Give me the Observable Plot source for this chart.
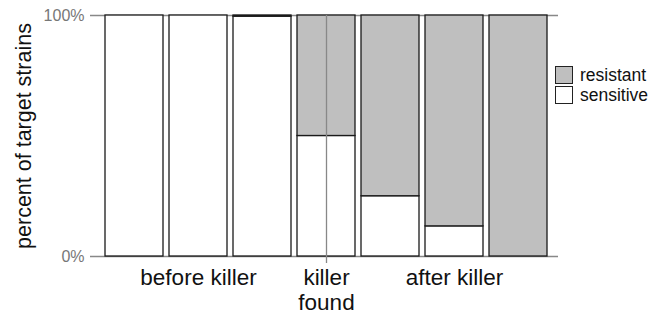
<!DOCTYPE html>
<html>
<head>
<meta charset="utf-8">
<script src="https://cdn.jsdelivr.net/npm/d3@7"></script>
<script src="https://cdn.jsdelivr.net/npm/@observablehq/plot@0.6"></script>
<style>
  html, body { margin: 0; padding: 0; background: #fff; }
  #wrap { position: relative; width: 660px; height: 316px; font-family: "Liberation Sans", Arial, sans-serif; }
  #legend { position: absolute; left: 555px; top: 65px; font-size: 17.5px; color: #111; }
  .item { display: flex; align-items: center; height: 20px; }
  .sw { width: 16px; height: 16px; border: 1.2px solid #222; margin-right: 7px; box-sizing: content-box; }
</style>
</head>
<body>
<div id="wrap"><div id="legend"></div></div>
<script>
const bars = ["b1", "b2", "b3", "b4", "b5", "b6", "b7"];
const sensitive = [1, 1, 0.995, 0.5, 0.25, 0.125, 0];
const types = ["sensitive", "resistant"];
const typeColors = ["#ffffff", "#bfbfbf"];
const legendOrder = ["resistant", "sensitive"];
const groupBars = ["b2", "b4", "b6"];
const groupLabels = ["before killer", "killer\nfound", "after killer"];
const markedBar = ["b4"];
const yTicks = [0, 1];
const yLabel = "percent of target strains";

const rows = [];
bars.forEach((b, i) => {
  rows.push({bar: b, type: "sensitive", value: sensitive[i]});
  rows.push({bar: b, type: "resistant", value: 1 - sensitive[i]});
});
const groups = groupBars.map((b, i) => ({bar: b, label: groupLabels[i]}));
const marks = markedBar.map(b => ({bar: b, lo: 0, hi: 1}));

const chart = Plot.plot({
  width: 660,
  height: 316,
  marginLeft: 90,
  marginRight: 102,
  marginTop: 15,
  marginBottom: 60,
  style: {fontFamily: '"Liberation Sans", Arial, sans-serif', background: "#fff", overflow: "visible"},
  x: {domain: bars, paddingInner: 0.094, paddingOuter: 0.17, align: 0.59, axis: null},
  y: {domain: [0, 1], axis: null},
  color: {domain: types, range: typeColors},
  marks: [
    Plot.ruleY(yTicks, {stroke: "#888", strokeWidth: 1.5}),
    Plot.barY(rows, {x: "bar", y: "value", fill: "type", order: types, stroke: "#1a1a1a", strokeWidth: 1.3}),
    Plot.ruleX(marks, {x: "bar", y1: "hi", y2: "lo", stroke: "#888", strokeWidth: 1.3, insetBottom: -7}),
    Plot.text(yTicks, {y: d => d, text: d => d3.format(".0%")(d), frameAnchor: "left", textAnchor: "end", dx: -6, fontSize: 16, fill: "#777"}),
    Plot.text(groups, {x: "bar", text: "label", frameAnchor: "bottom", lineAnchor: "top", dy: 11, fontSize: 22.5, lineHeight: 1.11, fill: "#111"}),
    Plot.text([yLabel], {text: d => d, frameAnchor: "left", textAnchor: "middle", rotate: -90, dx: -66, fontSize: 21.5, fill: "#111"})
  ]
});
document.getElementById("wrap").prepend(chart);

const legend = document.getElementById("legend");
legendOrder.forEach(t => {
  const item = document.createElement("div");
  item.className = "item";
  const sw = document.createElement("span");
  sw.className = "sw";
  sw.style.background = typeColors[types.indexOf(t)];
  const label = document.createElement("span");
  label.textContent = t;
  item.append(sw, label);
  legend.append(item);
});
</script>
</body>
</html>
